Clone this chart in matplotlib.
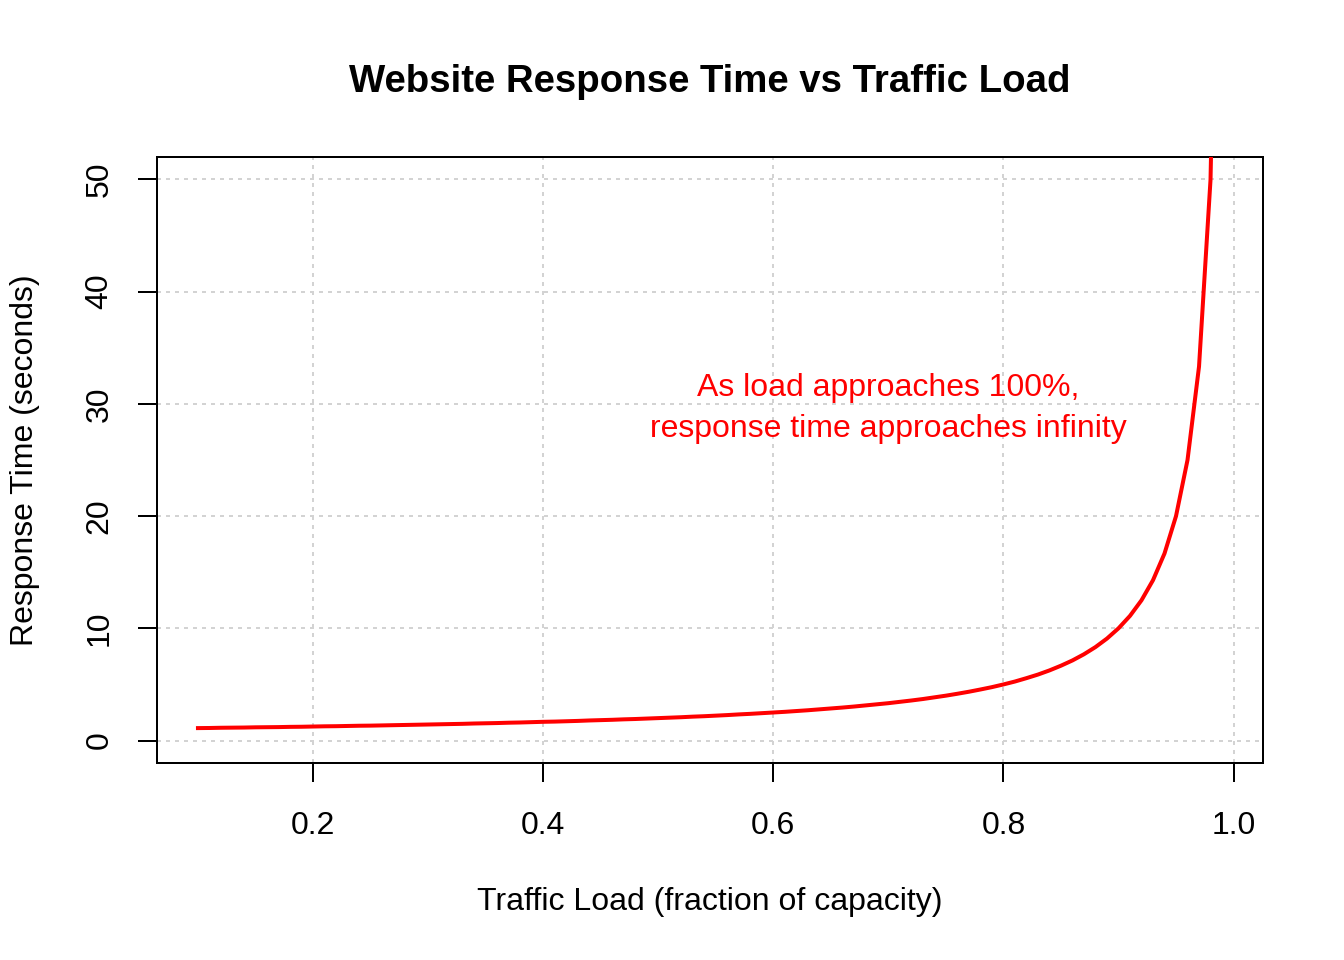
import numpy as np
import matplotlib.pyplot as plt

# traffic load (fraction of capacity) at 0.01 steps
load = [0.10, 0.11, 0.12, 0.13, 0.14, 0.15, 0.16, 0.17, 0.18, 0.19,
        0.20, 0.21, 0.22, 0.23, 0.24, 0.25, 0.26, 0.27, 0.28, 0.29,
        0.30, 0.31, 0.32, 0.33, 0.34, 0.35, 0.36, 0.37, 0.38, 0.39,
        0.40, 0.41, 0.42, 0.43, 0.44, 0.45, 0.46, 0.47, 0.48, 0.49,
        0.50, 0.51, 0.52, 0.53, 0.54, 0.55, 0.56, 0.57, 0.58, 0.59,
        0.60, 0.61, 0.62, 0.63, 0.64, 0.65, 0.66, 0.67, 0.68, 0.69,
        0.70, 0.71, 0.72, 0.73, 0.74, 0.75, 0.76, 0.77, 0.78, 0.79,
        0.80, 0.81, 0.82, 0.83, 0.84, 0.85, 0.86, 0.87, 0.88, 0.89,
        0.90, 0.91, 0.92, 0.93, 0.94, 0.95, 0.96, 0.97, 0.98, 0.99]

# response time in seconds
response = [1.11, 1.12, 1.14, 1.15, 1.16, 1.18, 1.19, 1.20, 1.22, 1.23,
            1.25, 1.27, 1.28, 1.30, 1.32, 1.33, 1.35, 1.37, 1.39, 1.41,
            1.43, 1.45, 1.47, 1.49, 1.52, 1.54, 1.56, 1.59, 1.61, 1.64,
            1.67, 1.69, 1.72, 1.75, 1.79, 1.82, 1.85, 1.89, 1.92, 1.96,
            2.00, 2.04, 2.08, 2.13, 2.17, 2.22, 2.27, 2.33, 2.38, 2.44,
            2.50, 2.56, 2.63, 2.70, 2.78, 2.86, 2.94, 3.03, 3.13, 3.23,
            3.33, 3.45, 3.57, 3.70, 3.85, 4.00, 4.17, 4.35, 4.55, 4.76,
            5.00, 5.26, 5.56, 5.88, 6.25, 6.67, 7.14, 7.69, 8.33, 9.09,
            10.00, 11.11, 12.50, 14.29, 16.67, 20.00, 25.00, 33.33, 50.00, 100.00]

x_ticks = [0.2, 0.4, 0.6, 0.8, 1.0]
y_ticks = [0, 10, 20, 30, 40, 50]

plt.rcParams['font.family'] = ['Liberation Sans', 'DejaVu Sans']

fig = plt.figure(figsize=(7, 5), dpi=192)
ax = fig.add_axes([157 / 1344, 1 - 763 / 960, (1263 - 157) / 1344, (763 - 157) / 960])

# R-style 4% padding
xr = max(load) - min(load)
ax.set_xlim(min(load) - 0.04 * xr, max(load) + 0.04 * xr)
ax.set_ylim(-2, 52)

# grid() look: dotted light gray
for xt in x_ticks:
    ax.axvline(xt, color='lightgray', lw=0.75, ls=(0, (2, 2.5)), zorder=1)
for yt in y_ticks:
    ax.axhline(yt, color='lightgray', lw=0.75, ls=(0, (2, 2.5)), zorder=1)

ax.plot(load, response, color='red', lw=1.5, zorder=3)

ax.text(0.7, 29.6, "As load approaches 100%,\nresponse time approaches infinity",
        color='red', fontsize=12, ha='center', va='center', linespacing=1.45)

ax.set_xticks(x_ticks)
ax.set_xticklabels(['0.2', '0.4', '0.6', '0.8', '1.0'])
ax.set_yticks(y_ticks)
ax.set_yticklabels([str(v) for v in y_ticks], rotation=90, va='center')
ax.tick_params(length=7, width=0.75, labelsize=12, pad=9)
ax.tick_params(axis='x', pad=11)

for sp in ax.spines.values():
    sp.set_linewidth(0.75)

fig.text(710 / 1344, 1 - 82 / 960, "Website Response Time vs Traffic Load",
         fontsize=14.4, fontweight='bold', ha='center', va='center')
fig.text(710 / 1344, 1 - 902 / 960, "Traffic Load (fraction of capacity)",
         fontsize=12, ha='center', va='center')
fig.text(25 / 1344, 1 - 460 / 960, "Response Time (seconds)",
         fontsize=12, ha='center', va='center', rotation=90)

fig.savefig('out.png', dpi=192)
